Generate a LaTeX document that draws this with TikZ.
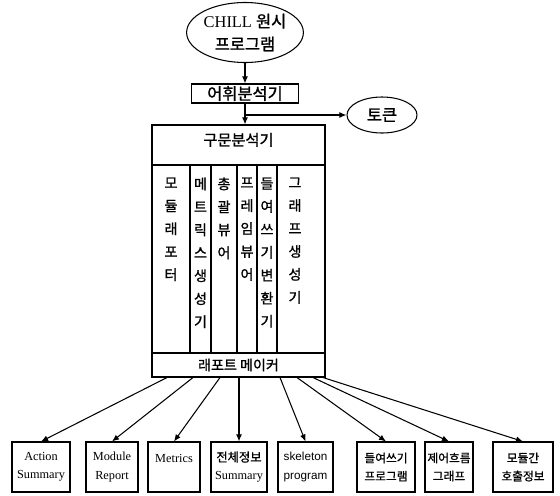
\documentclass[tikz,border=0pt]{standalone}
\usepackage{fontspec}
\setmainfont{Liberation Serif}
\setsansfont{Liberation Sans}
\newfontfamily\kr{Noto Sans CJK KR}[FakeBold=1.2]
\usetikzlibrary{positioning}
\usetikzlibrary{arrows.meta}
\usetikzlibrary{shapes.geometric}
\usetikzlibrary{calc}

\begin{document}
\begin{tikzpicture}[
    x=0.03cm, y=-0.03cm,
    line width=0.9pt,
    oval/.style={ellipse, draw, inner sep=0pt, align=center},
    blk/.style={rectangle, draw, inner sep=0pt, align=center},
    coltxt/.style={anchor=north, inner sep=0pt, align=center, font=\kr\fontsize{12}{19.6}\selectfont},
    outbox/.style={rectangle, draw, inner sep=0pt, minimum height=1.5cm, align=center, font=\fontsize{10.5}{15.5}\selectfont},
    arr/.style={-{Latex[length=6pt,width=5pt]}}
]
\useasboundingbox (0,0) rectangle (560,495);

% Source program and lexer
\node[oval, minimum width=3.21cm, minimum height=1.8cm, font=\fontsize{14}{19.6}\selectfont] (src) at (245,32.5) {CHILL {\kr 원시}\\{\kr 프로그램}};
\node[blk, minimum width=3.21cm, minimum height=0.57cm, font=\kr\fontsize{14}{16}\selectfont] (lex) at (245,93.5) {어휘분석기};
\node[oval, minimum width=2.1cm, minimum height=1.08cm, font=\kr\fontsize{14}{16}\selectfont] (token) at (382,115) {토큰};

% Parser box with its tools
\node[blk, minimum width=5.19cm, minimum height=1.2cm, text height=11pt, text depth=10pt, font=\kr\fontsize{13}{16}\selectfont] (parser) at (238.5,145) {구문분석기};
\node[blk, minimum width=5.19cm, minimum height=5.64cm] (tools) at (238.5,259) {};
\node[blk, minimum width=5.19cm, minimum height=0.72cm, font=\kr\fontsize{12}{16}\selectfont] (rmk) at (238.5,365) {래포트 메이커};
\draw (190,165) -- (190,353);
\draw (211,165) -- (211,353);
\draw (237,165) -- (237,353);
\draw (257,165) -- (257,353);
\draw (277,165) -- (277,353);
\node[coltxt] (cRep) at (171,177) {모\\듈\\래\\포\\터};
\node[coltxt] (cMet) at (200.5,177) {메\\트\\릭\\스\\생\\성\\기};
\node[coltxt] (cSum) at (224,177) {총\\괄\\뷰\\어};
\node[coltxt] (cFrm) at (247,177) {프\\레\\임\\뷰\\어};
\node[coltxt] (cInd) at (267,177) {들\\여\\쓰\\기\\변\\환\\기};
\node[coltxt] (cGrf) at (295,177) {그\\래\\프\\생\\성\\기};

% Outputs
\node[outbox, minimum width=1.74cm] (o1) at (41,467) {Action\\Summary};
\node[outbox, minimum width=1.56cm] (o2) at (112,467) {Module\\Report};
\node[outbox, minimum width=1.56cm] (o3) at (174,467) {Metrics\\~};
\node[outbox, minimum width=1.68cm] (o4) at (239,467) {{\kr 전체정보}\\Summary};
\node[outbox, minimum width=1.65cm, font=\sffamily\fontsize{10}{15.5}\selectfont] (o5) at (305.5,467) {skeleton\\program};
\node[outbox, minimum width=1.74cm, font=\kr\fontsize{10}{15.5}\selectfont] (o6) at (386,467) {들여쓰기\\프로그램};
\node[outbox, minimum width=1.44cm, font=\kr\fontsize{10}{15.5}\selectfont] (o7) at (449,467) {제어흐름\\그래프};
\node[outbox, minimum width=1.8cm, font=\kr\fontsize{10}{15.5}\selectfont] (o8) at (523,467) {모듈간\\호출정보};

% Connectors
\draw[arr] (src.south) -- (lex.north);
\draw[arr] (lex.south) -- (lex.south |- parser.north);
\coordinate (fork) at (lex.south |- token.west);
\draw[arr] (fork) -- (token.west);
\draw[arr] ($(rmk.south)+(-71.5,0)$) -- (o1.north);
\draw[arr] ($(rmk.south)+(-45.5,0)$) -- (o2.north);
\draw[arr] ($(rmk.south)+(-18.5,0)$) -- (o3.north);
\draw[arr] (rmk.south -| o4.north) -- (o4.north);
\draw[arr] ($(rmk.south)+(41.5,0)$) -- (o5.north);
\draw[arr] ($(rmk.south)+(58.5,0)$) -- (o6.north);
\draw[arr] ($(rmk.south)+(74.5,0)$) -- (o7.north);
\draw[arr] ($(rmk.south)+(84.5,0)$) -- (o8.north);

\end{tikzpicture}
\end{document}
